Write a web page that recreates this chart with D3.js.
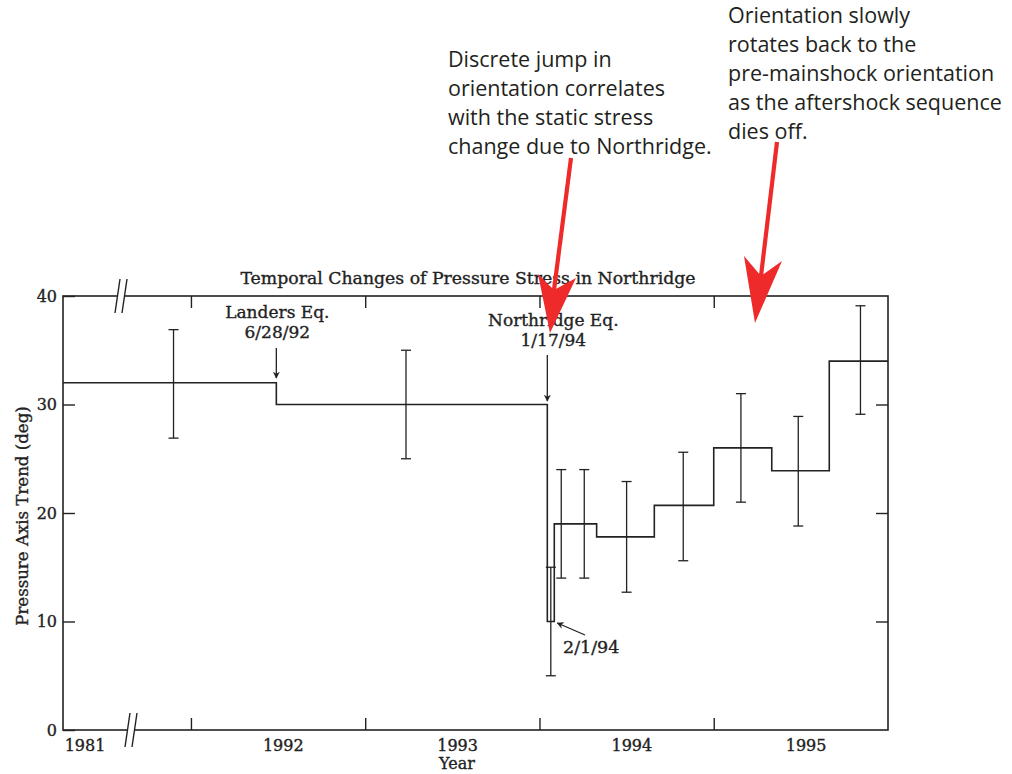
<!DOCTYPE html>
<html>
<head>
<meta charset="utf-8">
<script src="https://cdn.jsdelivr.net/npm/d3@7"></script>
<style>
body { margin: 0; background: #fff; }
svg text { font-family: "DejaVu Serif", serif; fill: #222; }
.serif { stroke: #222; stroke-width: 0.35; }
.note { font-family: "Open Sans", sans-serif; fill: #231f20; font-size: 21.5px; }
</style>
</head>
<body>
<svg width="1012" height="774"></svg>
<script>
// start of each constant-orientation interval (decimal year) and its trend
const stepStarts = [1981, 1992.49, 1994.045, 1994.085, 1994.328, 1994.659, 1995.0, 1995.333, 1995.663];
const stepEnd = 1996;
const stepValues = [32, 30, 10, 19, 17.8, 20.7, 26, 23.9, 34];

// error bars
const errDates = [1991.9, 1993.234, 1994.065, 1994.125, 1994.257, 1994.5, 1994.825, 1995.156, 1995.485, 1995.842];
const errLow = [26.9, 25, 5, 14, 14, 12.7, 15.6, 21, 18.8, 29.1];
const errHigh = [36.9, 35, 15, 24, 24, 22.9, 25.6, 31, 28.9, 39.1];

const yTicks = [0, 10, 20, 30, 40];
const yearTicks = [1992, 1993, 1994, 1995];
const yearLabels = [1981, 1992, 1993, 1994, 1995];

const landersDate = 1992.49;
const northridgeDate = 1994.045;
const feb1Date = 1994.085;

const note1 = ['Discrete jump in', 'orientation correlates', 'with the static stress', 'change due to Northridge.'];
const note2 = ['Orientation slowly', 'rotates back to the', 'pre-mainshock orientation', 'as the aftershock sequence', 'dies off.'];

const svg = d3.select('svg');

// broken time axis: 1981 squeezed to the left of the break
const x = d3.scaleLinear()
    .domain([1981, 1982, 1991.656, 1996])
    .range([63, 107, 131, 888]);
const y = d3.scaleLinear().domain([0, 40]).range([730, 296]);

svg.append('defs').append('marker')
    .attr('id', 'head').attr('viewBox', '0 0 10 10')
    .attr('refX', 9).attr('refY', 5)
    .attr('markerWidth', 7).attr('markerHeight', 9)
    .attr('markerUnits', 'userSpaceOnUse')
    .attr('orient', 'auto')
    .append('path').attr('d', 'M0,0 L10,5 L0,10 L3,5 Z').attr('fill', '#222');

// frame
svg.append('rect')
    .attr('x', x(1981)).attr('y', y(40))
    .attr('width', x(1996) - x(1981)).attr('height', y(0) - y(40))
    .attr('fill', 'none').attr('stroke', '#222').attr('stroke-width', 1.6);

// axes (ticks point inward)
const leftAxis = svg.append('g').attr('transform', `translate(${x(1981)},0)`)
    .call(d3.axisLeft(y).tickValues(yTicks).tickSizeInner(-12).tickSizeOuter(0).tickPadding(6));
const rightAxis = svg.append('g').attr('transform', `translate(${x(1996)},0)`)
    .call(d3.axisRight(y).tickValues([10, 20, 30]).tickSize(-12).tickFormat(''));
const topAxis = svg.append('g').attr('transform', `translate(0,${y(40)})`)
    .call(d3.axisTop(x).tickValues(yearTicks).tickSize(-12).tickFormat(''));
const bottomAxis = svg.append('g').attr('transform', `translate(0,${y(0)})`)
    .call(d3.axisBottom(x).tickValues(yearTicks).tickSize(-12).tickFormat(''));

[leftAxis, rightAxis, topAxis, bottomAxis].forEach(g => {
    g.select('.domain').remove();
    g.selectAll('line').attr('stroke', '#222').attr('stroke-width', 1.4);
});
leftAxis.selectAll('text')
    .attr('class', 'serif')
    .style('font-family', '"DejaVu Serif", serif').style('font-size', '16px').attr('fill', '#222');

// year labels sit in the middle of each year
svg.selectAll('.year').data(yearLabels).join('text')
    .attr('class', 'year serif')
    .attr('x', d => d === 1981 ? x(1981.5) : x(d + 0.53))
    .attr('y', 751)
    .attr('text-anchor', 'middle')
    .style('font-size', '16px')
    .text(d => d);

// axis breaks
function breakMark(cx, cy) {
    const g = svg.append('g').attr('transform', `translate(${cx},${cy})`);
    g.append('rect').attr('x', -3).attr('y', -3).attr('width', 6).attr('height', 6).attr('fill', '#fff');
    g.append('line').attr('x1', -6).attr('y1', 17).attr('x2', -1).attr('y2', -17);
    g.append('line').attr('x1', 1).attr('y1', 17).attr('x2', 6).attr('y2', -17);
    g.selectAll('line').attr('stroke', '#222').attr('stroke-width', 1.4);
}
breakMark(x(1991.656) - 10, y(40));
breakMark(x(1991.656), y(0));

// step line
const stepPoints = stepStarts.map((d, i) => [d, stepValues[i]]);
stepPoints.push([stepEnd, stepValues[stepValues.length - 1]]);
svg.append('path')
    .datum(stepPoints)
    .attr('d', d3.line().x(d => x(d[0])).y(d => y(d[1])).curve(d3.curveStepAfter))
    .attr('fill', 'none').attr('stroke', '#222').attr('stroke-width', 1.6);

// error bars
const bars = svg.selectAll('.err').data(errDates).join('g').attr('class', 'err')
    .attr('stroke', '#222').attr('stroke-width', 1.3);
bars.append('line')
    .attr('x1', d => x(d)).attr('x2', d => x(d))
    .attr('y1', (d, i) => y(errLow[i])).attr('y2', (d, i) => y(errHigh[i]));
bars.append('line')
    .attr('x1', d => x(d) - 5).attr('x2', d => x(d) + 5)
    .attr('y1', (d, i) => y(errLow[i])).attr('y2', (d, i) => y(errLow[i]));
bars.append('line')
    .attr('x1', d => x(d) - 5).attr('x2', d => x(d) + 5)
    .attr('y1', (d, i) => y(errHigh[i])).attr('y2', (d, i) => y(errHigh[i]));

// title and axis names
svg.append('text').attr('class', 'serif')
    .attr('x', 468).attr('y', 284).attr('text-anchor', 'middle')
    .style('font-size', '17.3px')
    .text('Temporal Changes of Pressure Stress in Northridge');
svg.append('text').attr('class', 'serif')
    .attr('transform', 'translate(28,516) rotate(-90)').attr('text-anchor', 'middle')
    .style('font-size', '16.6px')
    .text('Pressure Axis Trend (deg)');
svg.append('text').attr('class', 'serif')
    .attr('x', 457).attr('y', 769).attr('text-anchor', 'middle')
    .style('font-size', '16px')
    .text('Year');

// event labels
function label(lines, cx, cy) {
    svg.append('text').attr('class', 'serif')
        .attr('text-anchor', 'middle').style('font-size', '17px')
        .selectAll('tspan').data(lines).join('tspan')
        .attr('x', cx).attr('y', (d, i) => cy + i * 20)
        .text(d => d);
}
label(['Landers Eq.', '6/28/92'], x(landersDate) + 1, 318);
label(['Northridge Eq.', '1/17/94'], x(northridgeDate) + 6, 326);
svg.append('text').attr('class', 'serif')
    .attr('x', 563).attr('y', 653).style('font-size', '17.5px').text('2/1/94');

const arrows = [
    [x(landersDate), 348, x(landersDate), 378],
    [x(northridgeDate), 355, x(northridgeDate), 401],
    [585, 635, x(feb1Date) + 3, 623]
];
svg.selectAll('.evt').data(arrows).join('line').attr('class', 'evt')
    .attr('x1', d => d[0]).attr('y1', d => d[1])
    .attr('x2', d => d[2]).attr('y2', d => d[3])
    .attr('stroke', '#222').attr('stroke-width', 1.3)
    .attr('marker-end', 'url(#head)');

// red call-outs
function note(lines, lx, by) {
    svg.append('text').attr('class', 'note')
        .selectAll('tspan').data(lines).join('tspan')
        .attr('x', lx).attr('y', (d, i) => by + i * 29)
        .text(d => d);
}
note(note1, 448, 67);
note(note2, 728, 23);

function redArrow(sx, sy, nx, ny, tip, b1, b2) {
    svg.append('line')
        .attr('x1', sx).attr('y1', sy).attr('x2', nx).attr('y2', ny)
        .attr('stroke', '#ee2a2a').attr('stroke-width', 4.2);
    svg.append('path')
        .attr('d', `M${tip[0]},${tip[1]} L${b1[0]},${b1[1]} L${nx},${ny} L${b2[0]},${b2[1]} Z`)
        .attr('fill', '#ee2a2a');
}
redArrow(571, 158, 554, 290, [550, 333], [538, 274], [576, 278]);
redArrow(777, 142, 761, 276, [755, 323], [744, 256], [782, 261]);
</script>
</body>
</html>
